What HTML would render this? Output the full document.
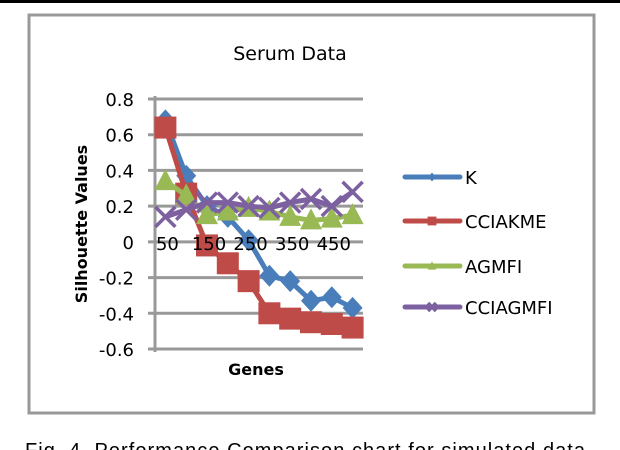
<!DOCTYPE html>
<html><head><meta charset="utf-8"><style>
html,body{margin:0;padding:0;background:#fff;}
body{width:620px;height:450px;overflow:hidden;position:relative;font-family:"DejaVu Sans","Liberation Sans",sans-serif;}
</style></head><body>
<svg id="chart" width="620" height="450" xmlns="http://www.w3.org/2000/svg" style="position:absolute;left:0;top:0">
<rect x="0" y="0" width="620" height="3" fill="#000"/>
<rect x="29" y="15" width="565" height="398" fill="#fff" stroke="#999" stroke-width="3"/>
<text x="290" y="60" font-size="19" text-anchor="middle" fill="#000">Serum Data</text>
<text transform="translate(87,224) rotate(-90)" font-size="16" font-weight="bold" text-anchor="middle" fill="#000">Silhouette Values</text>
<text x="256" y="375" font-size="16" font-weight="bold" text-anchor="middle" fill="#000">Genes</text>
<g id="grid"></g><g id="series"></g><g id="legend"></g>
<text x="25" y="457" font-size="20" fill="#000" font-family="Liberation Sans, sans-serif" textLength="560">Fig. 4. Performance Comparison chart for simulated data</text>
</svg>
<script>
const categories=[50,100,150,200,250,300,350,400,450,500];
const xLabels=["50","150","250","350","450"];
const yTicks=[0.8,0.6,0.4,0.2,0,-0.2,-0.4,-0.6];
const seriesNames=["K","CCIAKME","AGMFI","CCIAGMFI"];
const kVals=[0.68,0.37,0.20,0.14,0.01,-0.19,-0.22,-0.33,-0.31,-0.37];
const cciakmeVals=[0.64,0.27,-0.02,-0.12,-0.22,-0.40,-0.43,-0.45,-0.46,-0.48];
const agmfiVals=[0.34,0.26,0.15,0.17,0.19,0.17,0.14,0.12,0.13,0.15];
const cciagmfiVals=[0.14,0.18,0.22,0.22,0.20,0.19,0.22,0.24,0.20,0.28];
const NS="http://www.w3.org/2000/svg";
const x0=155,x1=363,yTop=99,yBot=349,vMax=0.8,vMin=-0.6;
const step=(x1-x0)/categories.length;
const xs=i=>x0+step*(i+0.5);
const ys=v=>yTop+(vMax-v)/(vMax-vMin)*(yBot-yTop);
function mk(t,a,p){const e=document.createElementNS(NS,t);for(const k in a)e.setAttribute(k,a[k]);p.appendChild(e);return e;}
const grid=document.getElementById('grid');
yTicks.forEach(v=>{
 const l=mk('line',{x1:148,x2:x1,y1:ys(v),y2:ys(v),stroke:'#999','stroke-width':3},grid);
 
 
 const t=mk('text',{x:134,y:ys(v)+7,'font-size':18,'text-anchor':'end',fill:'#000'},grid);
 t.textContent=String(v);
 
 
});
const ax=mk('line',{x1:x0,x2:x0,y1:yTop-3,y2:yBot+3,stroke:'#999','stroke-width':3},grid);


const colors=["#4a7ebb","#be4b48","#98b954","#7d60a0"];
const vals=[kVals,cciakmeVals,agmfiVals,cciagmfiVals];
function marker(k,cx,cy,g,s){
 let e;
 if(k==0)e=mk('polygon',{points:`${cx},${cy-11*s} ${cx+10*s},${cy} ${cx},${cy+11*s} ${cx-10*s},${cy}`,fill:colors[0]},g);
 else if(k==1)e=mk('rect',{x:cx-11*s,y:cy-11*s,width:22*s,height:22*s,fill:colors[1]},g);
 else if(k==2)e=mk('polygon',{points:`${cx},${cy-12*s} ${cx+11*s},${cy+9*s} ${cx-11*s},${cy+9*s}`,fill:colors[2]},g);
 else {e=mk('path',{d:`M${cx-10*s},${cy-10*s}L${cx+10*s},${cy+10*s}M${cx+10*s},${cy-10*s}L${cx-10*s},${cy+10*s}`,stroke:colors[3],'stroke-width':3.5,fill:'none'},g);}
 return e;
}
const sg=document.getElementById('series');
vals.forEach((arr,k)=>{
 const g=mk('g',{},sg);
 
 
 const pl=mk('polyline',{points:arr.map((v,i)=>xs(i)+','+ys(v)).join(' '),fill:'none',stroke:colors[k],'stroke-width':5,'stroke-linejoin':'round'},g);
 
 
 arr.forEach((v,i)=>{const m=marker(k,xs(i),ys(v),g,1);
  
  });
});
xLabels.forEach((lab,j)=>{
 const t=mk('text',{x:xs(j*2)+2,y:250,'font-size':18,'text-anchor':'middle',fill:'#000'},sg);
 t.textContent=lab;
 
 
});
const lg=document.getElementById('legend');
const ly=[177,221,266,307];
seriesNames.forEach((n,k)=>{
 const g=mk('g',{},lg);
 
 
 mk('line',{x1:405,x2:460,y1:ly[k],y2:ly[k],stroke:colors[k],'stroke-width':5,'stroke-linecap':'round'},g);
 marker(k,432,ly[k],g,0.4);
 const t=mk('text',{x:465,y:ly[k]+7,'font-size':18,fill:'#000'},g);
 t.textContent=n;
});
</script>
</body></html>
